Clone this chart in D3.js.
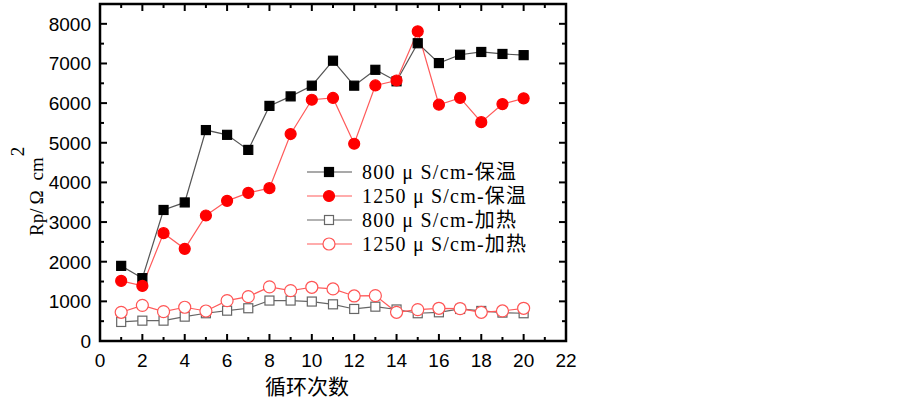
<!DOCTYPE html>
<html>
<head>
<meta charset="utf-8">
<script src="https://cdn.jsdelivr.net/npm/d3@7"></script>
<style>
  body { margin: 0; background: #fff; }
  svg { display: block; }
</style>
</head>
<body>
<div id="chart"></div>
<script>
var cycles = [1, 2, 3, 4, 5, 6, 7, 8, 9, 10, 11, 12, 13, 14, 15, 16, 17, 18, 19, 20];
var rp800Keep = [1895, 1585, 3305, 3495, 5320, 5200, 4820, 5930, 6170, 6440, 7070, 6440, 6840, 6550, 7510, 7010, 7220, 7290, 7240, 7210];
var rp1250Keep = [1515, 1390, 2720, 2325, 3165, 3535, 3735, 3855, 5220, 6085, 6130, 4975, 6445, 6570, 7810, 5960, 6130, 5520, 5975, 6120];
var rp800Heat = [480, 513, 513, 614, 700, 765, 826, 1020, 1020, 995, 925, 808, 866, 795, 700, 724, 808, 758, 716, 700];
var rp1250Heat = [724, 900, 740, 851, 757, 1018, 1119, 1365, 1270, 1355, 1313, 1136, 1144, 724, 790, 825, 816, 724, 758, 825];
var seriesNames = ['800 μ S/cm-保温', '1250 μ S/cm-保温', '800 μ S/cm-加热', '1250 μ S/cm-加热'];
var xTicks = [0, 2, 4, 6, 8, 10, 12, 14, 16, 18, 20, 22];
var yTicks = [0, 1000, 2000, 3000, 4000, 5000, 6000, 7000, 8000];

var chart_width = 903;
var chart_height = 402;
var plotLeft = 100, plotRight = 566, plotTop = 4, plotBottom = 341;

var svg = d3.select('#chart')
    .append('svg')
    .attr('width', chart_width)
    .attr('height', chart_height);

var x_scale = d3.scaleLinear().domain([0, 22]).range([plotLeft, plotRight]);
var y_scale = d3.scaleLinear().domain([0, 8500]).range([plotBottom, plotTop]);

var tickFont = '"Liberation Sans", Arial, sans-serif';
var serifFont = '"Liberation Serif", "Noto Sans CJK SC", serif';

// ticks, inward on all four sides
var g = svg.append('g');
d3.range(0, 23, 1).forEach(function (v) {
    var len = v % 2 === 0 ? 7 : 4;
    var x = x_scale(v);
    g.append('line').attr('x1', x).attr('x2', x).attr('y1', plotBottom).attr('y2', plotBottom - len)
        .attr('stroke', '#000').attr('stroke-width', 2);
    g.append('line').attr('x1', x).attr('x2', x).attr('y1', plotTop).attr('y2', plotTop + len)
        .attr('stroke', '#000').attr('stroke-width', 2);
});
d3.range(0, 8501, 500).forEach(function (v) {
    var len = v % 1000 === 0 ? 7 : 4;
    var y = y_scale(v);
    g.append('line').attr('x1', plotLeft).attr('x2', plotLeft + len).attr('y1', y).attr('y2', y)
        .attr('stroke', '#000').attr('stroke-width', 2);
    g.append('line').attr('x1', plotRight).attr('x2', plotRight - len).attr('y1', y).attr('y2', y)
        .attr('stroke', '#000').attr('stroke-width', 2);
});

svg.append('rect')
    .attr('x', plotLeft).attr('y', plotTop)
    .attr('width', plotRight - plotLeft).attr('height', plotBottom - plotTop)
    .attr('fill', 'none').attr('stroke', '#000').attr('stroke-width', 2.5);

svg.selectAll('.xlab')
    .data(xTicks)
    .enter()
    .append('text')
    .attr('x', function (d) { return x_scale(d); })
    .attr('y', 367)
    .attr('text-anchor', 'middle')
    .style('font-family', tickFont)
    .style('font-size', '19px')
    .text(function (d) { return d; });

svg.selectAll('.ylab')
    .data(yTicks)
    .enter()
    .append('text')
    .attr('x', 91)
    .attr('y', function (d) { return y_scale(d) + 7; })
    .attr('text-anchor', 'end')
    .style('font-family', tickFont)
    .style('font-size', '19px')
    .text(function (d) { return d; });

// axis titles
svg.append('text')
    .attr('x', 307)
    .attr('y', 394)
    .attr('text-anchor', 'middle')
    .style('font-family', '"Noto Sans CJK SC", sans-serif')
    .style('font-size', '21px')
    .text('循环次数');

var ylab = svg.append('text')
    .attr('transform', 'translate(43,236) rotate(-90)')
    .style('font-family', serifFont)
    .style('font-size', '19px');
ylab.append('tspan').text('Rp/');
ylab.append('tspan').attr('dx', 4).text('Ω');
ylab.append('tspan').attr('dx', 10).text('cm');
ylab.append('tspan').attr('dy', -19).attr('dx', 1).style('font-size', '19px').text('2');

// series
var series = [
    { vals: rp800Keep, line: '#555', shape: 'square', fill: '#000', stroke: '#000', size: 9 },
    { vals: rp1250Keep, line: '#ff5a5a', shape: 'circle', fill: '#ff0000', stroke: '#ff0000', size: 5.5 },
    { vals: rp800Heat, line: '#666', shape: 'square', fill: '#fff', stroke: '#666', size: 9 },
    { vals: rp1250Heat, line: '#ff5a5a', shape: 'circle', fill: '#fff', stroke: '#ff5555', size: 6 }
];

var line = d3.line()
    .x(function (d, i) { return x_scale(cycles[i]); })
    .y(function (d) { return y_scale(d); });

function drawMarker(sel, s, x, y) {
    if (s.shape === 'square') {
        sel.append('rect')
            .attr('x', x - s.size / 2).attr('y', y - s.size / 2)
            .attr('width', s.size).attr('height', s.size)
            .attr('fill', s.fill).attr('stroke', s.stroke).attr('stroke-width', 1.2);
    } else {
        sel.append('circle')
            .attr('cx', x).attr('cy', y).attr('r', s.size)
            .attr('fill', s.fill).attr('stroke', s.stroke).attr('stroke-width', 1.2);
    }
}

series.forEach(function (s) {
    svg.append('path')
        .datum(s.vals)
        .attr('d', line)
        .attr('fill', 'none')
        .attr('stroke', s.line)
        .attr('stroke-width', 1.2);
});
series.forEach(function (s) {
    var mg = svg.append('g');
    s.vals.forEach(function (d, i) {
        drawMarker(mg, s, x_scale(cycles[i]), y_scale(d));
    });
});

// legend
var legendY = [172, 196, 220, 244];
series.forEach(function (s, i) {
    var lg = svg.append('g');
    lg.append('line')
        .attr('x1', 307).attr('x2', 352)
        .attr('y1', legendY[i]).attr('y2', legendY[i])
        .attr('stroke', s.line).attr('stroke-width', 1.2);
    drawMarker(lg, s, 329, legendY[i]);
    lg.append('text')
        .attr('x', 362)
        .attr('y', legendY[i] + 7)
        .style('font-family', serifFont)
        .style('font-size', '20px')
        .attr('textLength', i % 2 === 0 ? 154 : 164)
        .attr('lengthAdjust', 'spacing')
        .text(seriesNames[i]);
});
</script>
</body>
</html>
